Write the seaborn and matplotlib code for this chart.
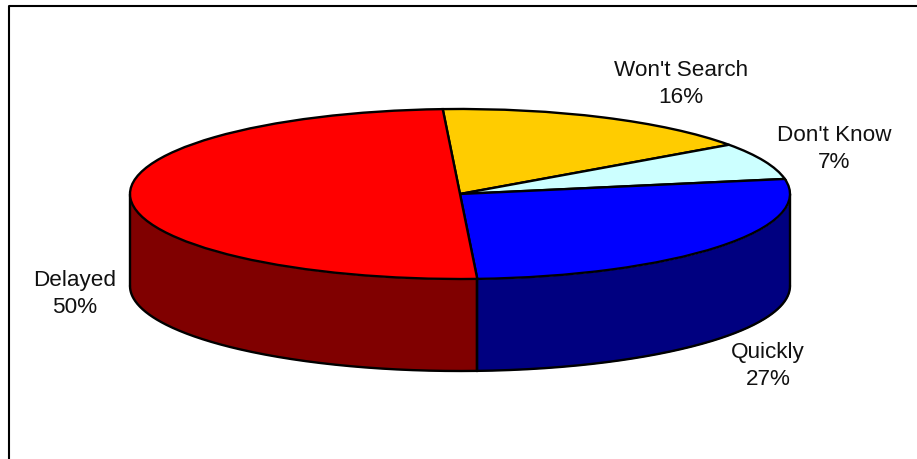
import numpy as np
import matplotlib
matplotlib.use('Agg')
import matplotlib.pyplot as plt
import seaborn as sns

# data, clockwise from the top of the pie
categorias = ["Won't Search", "Don't Know", "Quickly", "Delayed"]
valores = [16, 7, 27, 50]
colores = ['#FFCC00', '#CCFFFF', '#0000FF', '#FF0000']
colores_lado = ['#806600', '#668080', '#000080', '#800000']

# label centers in pixels
pos_etiquetas = [(681, 84), (834, 149), (768, 366), (75, 294)]

W, H = 917, 460
cx, cy, rx, ry = 460, 195, 330, 85
profundidad = 92 / ry
inicio = 93
lw = 1.7

sns.set_theme(style="white")
plt.rcParams['font.family'] = ['Liberation Sans', 'DejaVu Sans']

fig = plt.figure(figsize=(W / 100, H / 100), dpi=100)
ax = fig.add_axes([0, 0, 1, 1])

# side wall, only the front half of each slice is visible (0 to -180 degrees)
cortes = inicio - np.cumsum([0] + valores) * 3.6
for i in range(len(valores)):
    a = min(cortes[i], 0)
    b = max(cortes[i + 1], -180)
    if a > b:
        t = np.radians(np.linspace(a, b, 200))
        x = np.cos(t)
        y = np.sin(t)
        ax.fill_between(x, y, y - profundidad, color=colores_lado[i], linewidth=0, zorder=1)
        ax.plot(x, y - profundidad, color='black', lw=lw, zorder=2)
        ax.plot([x[0], x[0]], [y[0], y[0] - profundidad], color='black', lw=lw, zorder=2)
        ax.plot([x[-1], x[-1]], [y[-1], y[-1] - profundidad], color='black', lw=lw, zorder=2)

# top of the pie
ax.pie(valores, colors=colores, startangle=inicio, counterclock=False, radius=1,
       wedgeprops={'edgecolor': 'black', 'linewidth': lw, 'zorder': 3})

ax.set_aspect('auto')
ax.set_xlim((0 - cx) / rx, (W - cx) / rx)
ax.set_ylim((cy - H) / ry, cy / ry)
ax.axis('off')

for cat, val, (px, py) in zip(categorias, valores, pos_etiquetas):
    fig.text(px / W, 1 - py / H, f"{cat}\n{val}%", ha='center', va='center',
             fontsize=16.2, color='#111111', linespacing=1.42)

# chart area border, cut off by the image on the right and bottom
fig.add_artist(plt.Line2D([9 / W, 9 / W, 1], [0, 1 - 7 / H, 1 - 7 / H], color='black', lw=1.5))

plt.savefig('out.png', dpi=100)
plt.close()
